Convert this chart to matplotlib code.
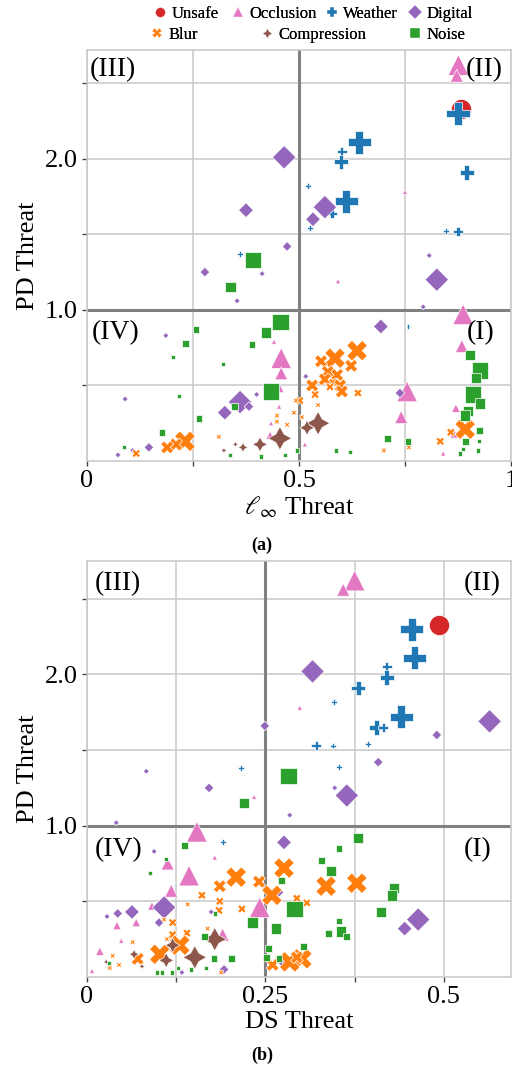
import matplotlib
matplotlib.use("Agg")
import matplotlib.pyplot as plt
from matplotlib.lines import Line2D

plt.rcParams['font.family'] = ['Liberation Serif', 'DejaVu Serif']
plt.rcParams['mathtext.fontset'] = 'stix'

# ---------------- data: (x, PD threat, size level) ----------------
# Panel (a): x = l_inf threat
A_UNSAFE = [(0.882, 2.33, 4)]
A_OCCLUSION = [(0.876, 2.62, 4), (0.872, 2.55, 3), (0.75, 1.78, 1), (0.592, 1.19, 1),
               (0.887, 0.97, 4), (0.884, 0.76, 3), (0.441, 0.79, 1), (0.458, 0.68, 4),
               (0.458, 0.58, 3), (0.455, 0.48, 2), (0.453, 0.36, 1), (0.434, 0.25, 1),
               (0.432, 0.17, 2), (0.755, 0.46, 4), (0.741, 0.29, 3), (0.870, 0.35, 2),
               (0.866, 0.18, 2), (0.84, 0.05, 1), (0.514, 0.11, 1)]
A_WEATHER = [(0.875, 2.30, 4), (0.642, 2.11, 4), (0.601, 2.05, 2), (0.599, 1.98, 3),
             (0.896, 1.91, 3), (0.521, 1.82, 1), (0.611, 1.72, 4), (0.578, 1.64, 2),
             (0.526, 1.54, 1), (0.847, 1.52, 1), (0.875, 1.52, 2), (0.361, 1.37, 1),
             (0.757, 0.89, 1)]
A_DIGITAL = [(0.465, 2.01, 4), (0.375, 1.66, 3), (0.472, 1.42, 2), (0.561, 1.68, 4),
             (0.533, 1.60, 3), (0.278, 1.25, 2), (0.413, 1.24, 1), (0.354, 1.06, 1),
             (0.186, 0.83, 1), (0.40, 0.44, 1), (0.09, 0.41, 1), (0.361, 0.39, 4),
             (0.382, 0.36, 2), (0.325, 0.32, 3), (0.146, 0.09, 2), (0.108, 0.07, 1),
             (0.073, 0.04, 1), (0.807, 1.36, 1), (0.825, 1.20, 4), (0.793, 1.02, 1),
             (0.693, 0.89, 3), (0.516, 0.56, 1), (0.738, 0.45, 2)]
A_BLUR = [(0.448, 0.30, 1), (0.448, 0.26, 1), (0.472, 0.24, 1), (0.311, 0.16, 1),
          (0.231, 0.13, 4), (0.21, 0.11, 3), (0.189, 0.09, 3), (0.116, 0.05, 2),
          (0.637, 0.73, 4), (0.585, 0.68, 4), (0.552, 0.66, 3), (0.623, 0.63, 3),
          (0.568, 0.59, 3), (0.590, 0.57, 3), (0.561, 0.54, 3), (0.580, 0.52, 2),
          (0.597, 0.50, 3), (0.531, 0.50, 3), (0.573, 0.49, 2), (0.601, 0.46, 3),
          (0.639, 0.45, 2), (0.538, 0.44, 2), (0.892, 0.21, 4), (0.858, 0.19, 2),
          (0.833, 0.13, 2), (0.759, 0.09, 1), (0.70, 0.07, 1), (0.502, 0.40, 2),
          (0.545, 0.37, 1), (0.49, 0.32, 1), (0.507, 0.29, 1), (0.493, 0.40, 1),
          (0.488, 0.32, 1)]
A_COMPRESSION = [(0.455, 0.15, 4), (0.408, 0.11, 3), (0.368, 0.09, 2), (0.35, 0.11, 1),
                 (0.323, 0.07, 1), (0.545, 0.25, 4), (0.519, 0.22, 3)]
A_NOISE = [(0.392, 1.33, 4), (0.338, 1.15, 3), (0.457, 0.92, 4), (0.257, 0.87, 2),
           (0.422, 0.85, 3), (0.233, 0.78, 2), (0.389, 0.77, 2), (0.203, 0.69, 1),
           (0.321, 0.64, 1), (0.434, 0.46, 4), (0.217, 0.43, 1), (0.347, 0.36, 2),
           (0.264, 0.28, 2), (0.177, 0.19, 2), (0.087, 0.09, 1), (0.337, 0.04, 1),
           (0.41, 0.03, 1), (0.467, 0.04, 1), (0.903, 0.70, 3), (0.927, 0.60, 4),
           (0.917, 0.55, 3), (0.910, 0.44, 4), (0.927, 0.38, 3), (0.899, 0.33, 3),
           (0.892, 0.30, 3), (0.925, 0.20, 2), (0.892, 0.13, 2), (0.925, 0.13, 1),
           (0.887, 0.08, 1), (0.88, 0.05, 1), (0.922, 0.07, 1), (0.708, 0.15, 2),
           (0.757, 0.13, 2), (0.587, 0.07, 1), (0.62, 0.06, 1), (0.495, 0.07, 1)]

# Panel (b): x = DS threat
B_UNSAFE = [(0.493, 2.33, 4)]
B_OCCLUSION = [(0.375, 2.62, 4), (0.359, 2.56, 3), (0.298, 1.78, 1), (0.234, 1.19, 1),
               (0.154, 0.96, 4), (0.179, 0.79, 1), (0.113, 0.75, 3), (0.143, 0.67, 4),
               (0.118, 0.57, 3), (0.091, 0.47, 2), (0.242, 0.46, 4), (0.042, 0.34, 2),
               (0.069, 0.36, 2), (0.190, 0.28, 3), (0.048, 0.24, 1), (0.018, 0.17, 2),
               (0.007, 0.04, 1)]
B_WEATHER = [(0.455, 2.30, 4), (0.459, 2.11, 4), (0.420, 2.05, 2), (0.420, 1.98, 3),
             (0.380, 1.91, 3), (0.346, 1.82, 1), (0.440, 1.72, 4), (0.405, 1.65, 3),
             (0.415, 1.65, 2), (0.321, 1.53, 2), (0.345, 1.53, 1), (0.394, 1.54, 1),
             (0.353, 1.39, 1), (0.216, 1.38, 1), (0.190, 0.89, 1)]
B_DIGITAL = [(0.249, 1.66, 2), (0.316, 2.02, 4), (0.490, 1.60, 2), (0.564, 1.69, 4),
             (0.408, 1.42, 2), (0.347, 1.25, 1), (0.364, 1.20, 4), (0.083, 1.36, 1),
             (0.171, 1.25, 2), (0.284, 1.07, 1), (0.041, 1.02, 1), (0.276, 0.89, 3),
             (0.094, 0.83, 1), (0.269, 0.56, 2), (0.108, 0.46, 4), (0.174, 0.43, 1),
             (0.063, 0.43, 3), (0.043, 0.42, 2), (0.028, 0.40, 1), (0.101, 0.36, 2),
             (0.464, 0.38, 4), (0.445, 0.32, 3), (0.192, 0.05, 2), (0.133, 0.03, 1),
             (0.275, 0.09, 2)]
B_BLUR = [(0.335, 0.60, 4), (0.378, 0.62, 4), (0.294, 0.52, 2), (0.308, 0.49, 2),
          (0.301, 0.12, 4), (0.209, 0.66, 4), (0.276, 0.72, 4), (0.186, 0.60, 3),
          (0.241, 0.63, 3), (0.161, 0.54, 2), (0.259, 0.54, 4), (0.186, 0.50, 2),
          (0.217, 0.45, 2), (0.185, 0.44, 2), (0.141, 0.48, 1), (0.108, 0.38, 1),
          (0.12, 0.36, 2), (0.169, 0.32, 1), (0.140, 0.29, 2), (0.120, 0.28, 2),
          (0.112, 0.25, 1), (0.064, 0.23, 1), (0.130, 0.21, 4), (0.102, 0.15, 4),
          (0.071, 0.12, 3), (0.036, 0.14, 1), (0.045, 0.08, 1), (0.032, 0.06, 1),
          (0.188, 0.03, 1), (0.260, 0.08, 3), (0.284, 0.10, 4), (0.294, 0.13, 3)]
B_COMPRESSION = [(0.179, 0.25, 4), (0.120, 0.21, 3), (0.151, 0.13, 4), (0.111, 0.11, 3),
                 (0.066, 0.15, 2), (0.027, 0.10, 1), (0.077, 0.07, 1)]
B_NOISE = [(0.282, 1.33, 4), (0.220, 1.15, 3), (0.380, 0.92, 3), (0.353, 0.85, 2),
           (0.329, 0.77, 2), (0.342, 0.70, 3), (0.430, 0.59, 3), (0.427, 0.54, 3),
           (0.291, 0.45, 4), (0.412, 0.43, 3), (0.353, 0.37, 2), (0.356, 0.30, 3),
           (0.338, 0.29, 2), (0.363, 0.27, 2), (0.303, 0.20, 2), (0.137, 0.87, 2),
           (0.111, 0.78, 1), (0.088, 0.69, 1), (0.272, 0.64, 2), (0.179, 0.42, 1),
           (0.232, 0.36, 3), (0.265, 0.32, 3), (0.165, 0.27, 2), (0.178, 0.12, 2),
           (0.202, 0.12, 2), (0.167, 0.06, 1), (0.146, 0.05, 1), (0.127, 0.06, 1),
           (0.031, 0.09, 1), (0.098, 0.03, 1), (0.105, 0.03, 1), (0.119, 0.03, 1),
           (0.254, 0.19, 2), (0.252, 0.13, 2), (0.269, 0.12, 2)]

CATEGORIES = ["Unsafe", "Occlusion", "Weather", "Digital", "Blur", "Compression", "Noise"]
PANEL_A = [A_UNSAFE, A_OCCLUSION, A_WEATHER, A_DIGITAL, A_BLUR, A_COMPRESSION, A_NOISE]
PANEL_B = [B_UNSAFE, B_OCCLUSION, B_WEATHER, B_DIGITAL, B_BLUR, B_COMPRESSION, B_NOISE]

# ---------------- styles ----------------
COLORS = {"Unsafe": "#d62728", "Occlusion": "#e377c2", "Weather": "#1f77b4",
          "Digital": "#9467bd", "Blur": "#ff7f0e", "Compression": "#8c564b",
          "Noise": "#2ca02c"}
MARKERS = {"Unsafe": "o", "Occlusion": "^", "Weather": "P", "Digital": "D",
           "Blur": "X", "Compression": (4, 1, 0), "Noise": "s"}
SIZE_MAP = {1: 12, 2: 32, 3: 75, 4: 190}
MARKER_SCALE = {"Unsafe": 1.1, "Occlusion": 1.15, "Weather": 1.45, "Digital": 0.75,
                "Blur": 1.15, "Compression": 1.5, "Noise": 0.75}

GRID_C = "#c8c8c8"
THICK_C = "#808080"

fig = plt.figure(figsize=(5.12, 10.7), dpi=100)
ax_a = fig.add_axes([87 / 512, 1 - 461 / 1070, 424 / 512, 411 / 1070])
ax_b = fig.add_axes([87 / 512, 1 - 977 / 1070, 424 / 512, 416 / 1070])


def draw(ax, panel, xlim, ylim, xticks, xlabels, xline, xlabel, quad):
    ax.set_axisbelow(True)
    ax.grid(True, color=GRID_C, linewidth=1.1)
    for sp in ax.spines.values():
        sp.set_color(GRID_C)
        sp.set_linewidth(1.1)
    ax.axvline(xline, color=THICK_C, linewidth=2.2, zorder=1.5)
    ax.axhline(1.0, color=THICK_C, linewidth=2.2, zorder=1.5)
    for cat, pts in zip(CATEGORIES, panel):
        xs = [p[0] for p in pts]
        ys = [p[1] for p in pts]
        ss = [SIZE_MAP[p[2]] * MARKER_SCALE[cat] for p in pts]
        ax.scatter(xs, ys, s=ss, c=COLORS[cat], marker=MARKERS[cat],
                   edgecolors="white", linewidths=0.5, zorder=3)
    ax.set_xlim(*xlim)
    ax.set_ylim(*ylim)
    ax.set_xticks(xticks)
    ax.set_xticklabels(xlabels)
    ax.set_yticks([0.5, 1.0, 1.5, 2.0, 2.5])
    ax.set_yticklabels(["", "1.0", "", "2.0", ""])
    ax.tick_params(axis="both", which="both", direction="out", length=3.5,
                   width=1.0, color="#444444", labelsize=19, pad=3)
    ax.set_ylabel("PD Threat", fontsize=19, labelpad=4)
    ax.set_xlabel(xlabel, fontsize=19, labelpad=2)
    for (tx, ty, txt, ha) in quad:
        ax.text(tx, ty, txt, ha=ha, va="center", fontsize=20, zorder=4)


draw(ax_a, PANEL_A, (0, 1.0), (0, 2.72), [0, 0.25, 0.5, 0.75, 1.0],
     ["0", "", "0.5", "", "1"], 0.5, r"$\ell_\infty$ Threat",
     [(0.007, 2.59, "(III)", "left"), (0.981, 2.59, "(II)", "right"),
      (0.012, 0.85, "(IV)", "left"), (0.962, 0.85, "(I)", "right")])
draw(ax_b, PANEL_B, (0, 0.594), (0, 2.75), [0, 0.125, 0.25, 0.375, 0.5],
     ["0", "", "0.25", "", "0.5"], 0.25, "DS Threat",
     [(0.011, 2.60, "(III)", "left"), (0.580, 2.60, "(II)", "right"),
      (0.011, 0.84, "(IV)", "left"), (0.567, 0.84, "(I)", "right")])

fig.text(262 / 512, 1 - 545 / 1070, "(a)", ha="center", va="center",
         fontsize=13, fontweight="bold")
fig.text(262 / 512, 1 - 1055 / 1070, "(b)", ha="center", va="center",
         fontsize=13, fontweight="bold")

# legend: one entry per legend box, placed at the reference marker positions
LEGEND_POS = {"Unsafe": (160, 14), "Occlusion": (238, 14), "Weather": (332, 14),
              "Digital": (415, 14), "Blur": (157, 35), "Compression": (267, 35),
              "Noise": (415, 35)}
for cat in CATEGORIES:
    mx, my = LEGEND_POS[cat]
    h = Line2D([], [], linestyle="none", marker=MARKERS[cat], color=COLORS[cat],
               markeredgecolor="white", markeredgewidth=0.3, markersize=7)
    leg = fig.legend([h], [cat], loc="center left",
                     bbox_to_anchor=((mx - 7) / 512, 1 - my / 1070),
                     frameon=False, fontsize=12, handletextpad=0.3,
                     handlelength=0.8, borderpad=0, borderaxespad=0)
    fig.add_artist(leg)

fig.savefig("out.png", dpi=100)
